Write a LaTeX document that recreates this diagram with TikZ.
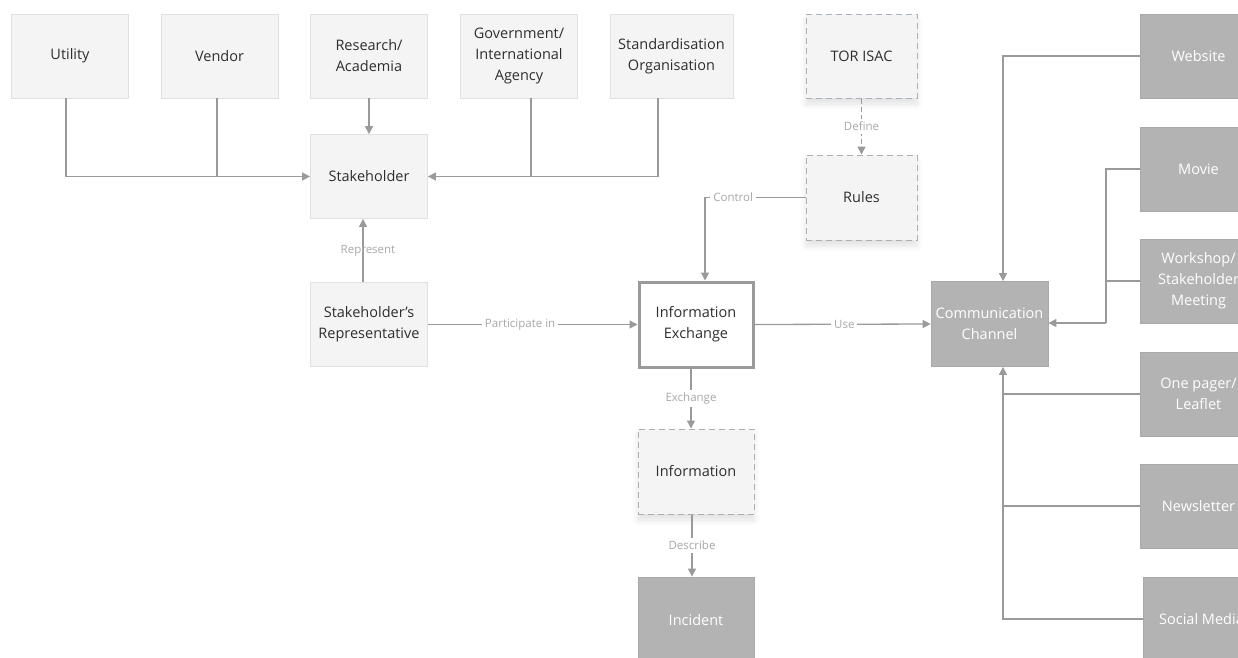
\documentclass[tikz,border=0pt]{standalone}
\usepackage{fontspec}
\setmainfont{Open Sans}
\usetikzlibrary{arrows.meta,shadows.blur}
\definecolor{lightfill}{HTML}{F4F4F4}
\definecolor{lightborder}{HTML}{E0E0E0}
\definecolor{darkfill}{HTML}{B3B3B3}
\definecolor{darkborder}{HTML}{A9A9A9}
\definecolor{linegray}{HTML}{9A9A9A}
\definecolor{labelgray}{HTML}{A8A8A8}
\definecolor{textdark}{HTML}{2E2E2E}
\definecolor{dashblue}{HTML}{A8B1C2}
\tikzset{
  box/.style={rectangle, minimum width=117pt, minimum height=84pt, align=center,
    inner sep=2pt, font=\fontsize{14.5}{21}\selectfont, line width=0.8pt},
  lightbox/.style={box, fill=lightfill, draw=lightborder, text=textdark},
  darkbox/.style={box, fill=darkfill, draw=darkborder, text=white},
  dashbox/.style={lightbox, dash pattern=on 6pt off 4pt, line width=1pt,
    blur shadow={shadow xshift=0pt, shadow yshift=-6pt, shadow opacity=12, shadow blur steps=10, shadow blur radius=6pt}},
  conn/.style={draw=linegray, line width=1.3pt},
  arr/.style={conn, -{Triangle[length=8pt,width=8pt]}},
  lbl/.style={font=\fontsize{11.5}{13}\selectfont, text=labelgray, fill=white, inner sep=3pt},
  lblclear/.style={lbl, fill=none},
}
\begin{document}
\begin{tikzpicture}[x=1pt,y=-1pt]
\useasboundingbox (0,0) rectangle (1238,657);
\clip (0,0) rectangle (1238,657);
% top row
\node[lightbox] (util) at (70,56) {Utility};
\node[lightbox] (vend) at (219.5,56) {Vendor};
\node[lightbox] (res) at (369,56) {Research/\\Academia};
\node[lightbox] (gov) at (519,56) {Government/\\International\\Agency};
\node[lightbox, minimum width=123pt] (std) at (671.5,56) {Standardisation\\Organisation};
\node[dashbox, draw=dashblue, minimum width=111pt] (tor) at (861.5,56) {TOR ISAC};
\node[dashbox, draw=linegray!80, minimum width=111pt, minimum height=85pt] (rules) at (861.5,197.5) {Rules};
% middle
\node[lightbox] (stake) at (369,176.5) {Stakeholder};
\node[lightbox] (rep) at (369,324.5) {Stakeholder’s\\Representative};
\node[box, fill=white, draw=linegray, line width=3pt, text=textdark, minimum width=114pt, minimum height=85pt] (ie) at (696,324.5) {Information\\Exchange};
\node[darkbox, minimum height=85pt] (comm) at (989.5,324) {Communication\\Channel};
\node[dashbox, draw=linegray!80, minimum width=116pt, minimum height=85pt] (info) at (696,471.5) {Information};
\node[darkbox, minimum width=116pt, minimum height=86pt] (inc) at (696,620) {Incident};
% right column
\node[darkbox] (web) at (1198.5,56) {Website};
\node[darkbox] (movie) at (1198.5,169) {Movie};
\node[darkbox] (work) at (1198.5,281) {Workshop/\\Stakeholder\\Meeting};
\node[darkbox] (one) at (1198.5,394) {One pager/\\Leaflet};
\node[darkbox] (news) at (1198.5,506) {Newsletter};
\node[darkbox] (soc) at (1201.5,619) {Social Media};
% connectors to stakeholder
\draw[arr] ([xshift=-4pt]util.south) |- (stake.west);
\draw[conn] ([xshift=-2.5pt]vend.south) -- ([xshift=-2.5pt]vend.south |- stake.west);
\draw[arr] (res.south) -- (stake.north);
\draw[arr] ([xshift=-13.5pt]std.south) |- (stake.east);
\draw[conn] ([xshift=12pt]gov.south) -- ([xshift=12pt]gov.south |- stake.east);
\draw[arr] ([xshift=-6pt]rep.north) -- node[lblclear, xshift=5pt] {Represent} ([xshift=-6pt]stake.south);
% central
\draw[arr] (rep.east) -- node[lbl, pos=0.44] {Participate in} (ie.west);
\draw[arr, dash pattern=on 5pt off 3pt] (tor.south) -- node[lbl] {Define} (rules.north);
\coordinate (ctl) at ([xshift=9pt]ie.north);
\draw[arr] (rules.west) -| node[lbl, pos=0.36] {Control} (ctl);
\draw[arr] (ie.east) -- node[lbl, pos=0.51] {Use} (comm.west);
\draw[arr] ([xshift=-5pt]ie.south) -- node[lbl] {Exchange} ([xshift=-5pt]info.north);
\draw[arr] ([xshift=-4pt]info.south) -- node[lbl] {Describe} ([xshift=-4pt]inc.north);
% right column connectors
\coordinate (ctop) at ([xshift=13.5pt]comm.north);
\coordinate (cbot) at ([xshift=13.5pt]comm.south);
\coordinate (mj) at (1106,323);
\draw[arr] (web.west) -| (ctop);
\draw[conn] (movie.west) -| (mj);
\draw[arr] (mj) -- (mj -| comm.east);
\draw[conn] (work.west) -- (work.west -| mj);
\draw[arr] (soc.west) -| (cbot);
\draw[conn] (one.west) -- (one.west -| cbot);
\draw[conn] (news.west) -- (news.west -| cbot);
\end{tikzpicture}
\end{document}
